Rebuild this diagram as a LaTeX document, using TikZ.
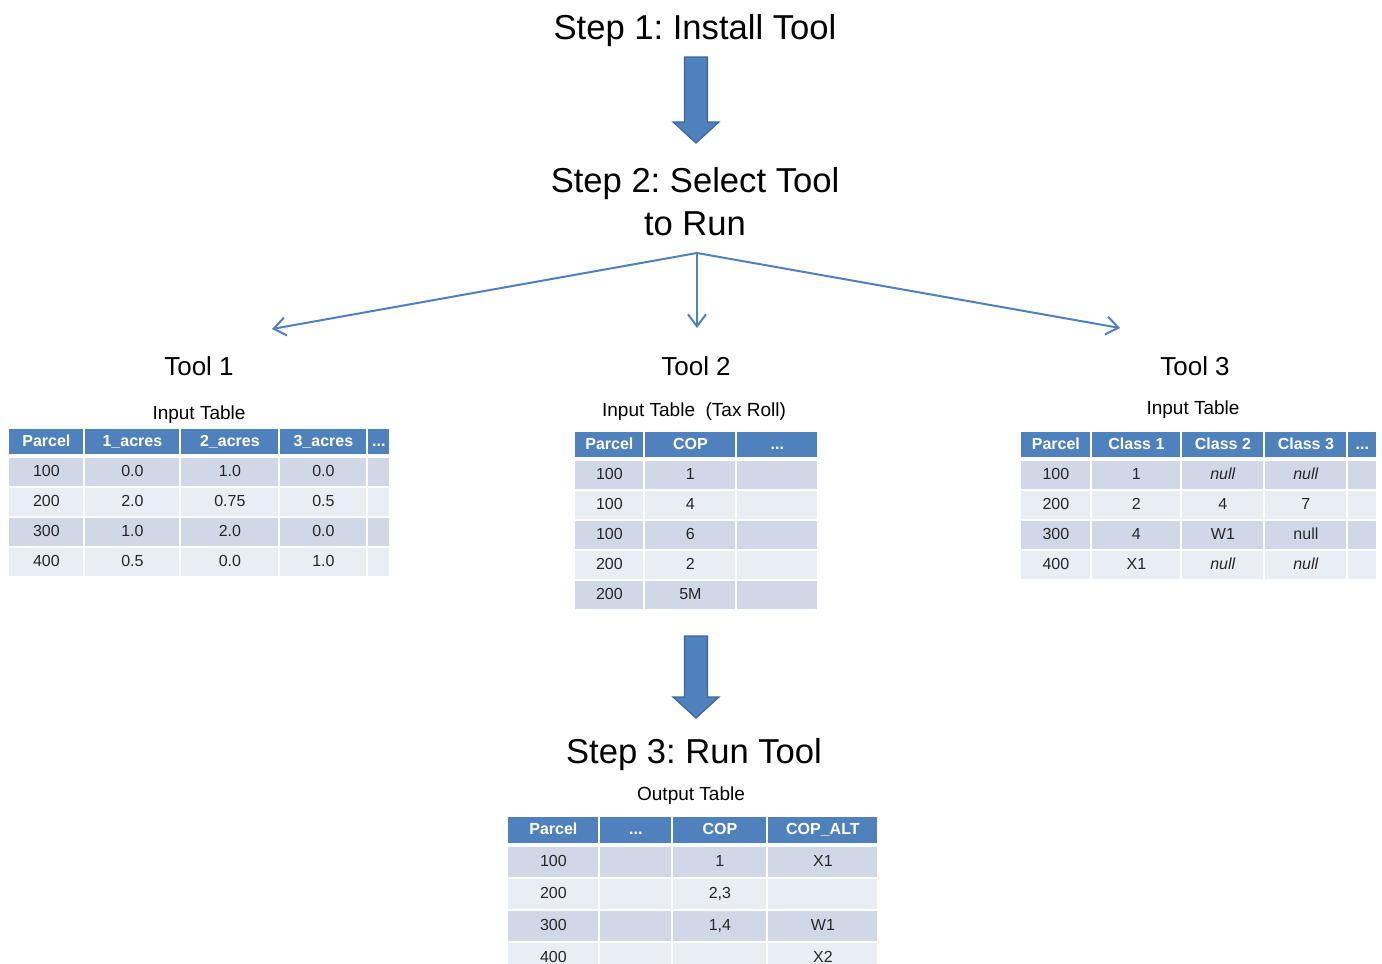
\documentclass[tikz,border=0pt]{standalone}
\usepackage{fontspec}
\setmainfont{Liberation Sans}
\usetikzlibrary{matrix,arrows.meta}
\frenchspacing

\definecolor{hdrblue}{HTML}{4F81BD}
\definecolor{blkedge}{HTML}{3B679E}
\definecolor{rowdark}{HTML}{D0D8E8}
\definecolor{rowlight}{HTML}{E9EDF4}
\definecolor{txtgray}{HTML}{262626}

% block arrow pointing down: x, top y, tip y
\newcommand{\bigdown}[3]{%
  \draw[blk] (#1-11.5,#2) -- (#1+11.5,#2) -- (#1+11.5,#3-21) -- (#1+23,#3-21)
    -- (#1,#3) -- (#1-23,#3-21) -- (#1-11.5,#3-21) -- cycle;}

\tikzset{
  title/.style={font=\fontsize{17.3}{21.5}\selectfont, align=center},
  toolname/.style={font=\fontsize{13}{15}\selectfont, anchor=base},
  caption/.style={font=\fontsize{9.5}{11}\selectfont, anchor=base},
  blk/.style={fill=hdrblue, draw=blkedge, line width=0.6pt},
  link/.style={->, draw=hdrblue, line width=1pt},
  tbl/.style={matrix of nodes, inner sep=0pt, column sep=1pt, row sep=1pt,
    nodes in empty cells, anchor=north west,
    nodes={rectangle, inner sep=0pt, minimum height=14pt, text height=6pt,
      text depth=1.7pt, font=\fontsize{8}{9}\selectfont, text=txtgray,
      fill=rowlight},
    every even row/.style={nodes={fill=rowdark}},
    row 1/.style={nodes={fill=hdrblue, text=white, minimum height=12.5pt,
      font=\fontsize{8}{9}\selectfont\bfseries}}}
}

\begin{document}
\begin{tikzpicture}[x=0.5pt,y=-0.5pt,>={Straight Barb[length=6pt,width=9pt]}]
\useasboundingbox (0,0) rectangle (1382,964);

\node[title, anchor=base] (step1) at (695,39) {Step 1: Install Tool};
\node[title] (step2) at (695,202) {Step 2: Select Tool\\to Run};
\node[title, anchor=base] (step3) at (694,763) {Step 3: Run Tool};

\bigdown{696}{57}{143}
\bigdown{696}{636}{718}

\coordinate (fork) at (697,253);
\coordinate (end1) at (272,329);
\coordinate (end2) at (697,328);
\coordinate (end3) at (1120,328);
\draw[link] (fork) -- (end1);
\draw[link] (fork) -- (end2);
\draw[link] (fork) -- (end3);

\node[toolname] (tool1) at (199,375) {Tool 1};
\node[toolname] (tool2) at (696,375) {Tool 2};
\node[toolname] (tool3) at (1195,375) {Tool 3};

\node[caption] (in1) at (199,419) {Input Table};
\node[caption] (in2) at (694,416) {Input Table\ \ (Tax Roll)};
\node[caption] (in3) at (1193,414) {Input Table};
\node[caption] (out) at (691,800) {Output Table};

\matrix (tab1) [tbl,
  column 1/.style={nodes={minimum width=37pt}},
  column 2/.style={nodes={minimum width=47pt}},
  column 3/.style={nodes={minimum width=48.5pt}},
  column 4/.style={nodes={minimum width=43pt}},
  column 5/.style={nodes={minimum width=10.5pt}}] at (9,429) {
  Parcel & 1\_acres & 2\_acres & 3\_acres & ... \\[1pt]
  100 & 0.0 & 1.0 & 0.0 & \\
  200 & 2.0 & 0.75 & 0.5 & \\
  300 & 1.0 & 2.0 & 0.0 & \\
  400 & 0.5 & 0.0 & 1.0 & \\
};

\matrix (tab2) [tbl,
  column 1/.style={nodes={minimum width=34pt}},
  column 2/.style={nodes={minimum width=45pt}},
  column 3/.style={nodes={minimum width=40pt}}] at (575,432) {
  Parcel & COP & ... \\[1pt]
  100 & 1 & \\
  100 & 4 & \\
  100 & 6 & \\
  200 & 2 & \\
  200 & 5M & \\
};

\matrix (tab3) [tbl,
  column 1/.style={nodes={minimum width=34.5pt}},
  column 2/.style={nodes={minimum width=44pt}},
  column 3/.style={nodes={minimum width=40.5pt}},
  column 4/.style={nodes={minimum width=40.5pt}},
  column 5/.style={nodes={minimum width=14pt}}] at (1021,432) {
  Parcel & Class 1 & Class 2 & Class 3 & ... \\[1pt]
  100 & 1 & \textit{null} & \textit{null} & \\
  200 & 2 & 4 & 7 & \\
  300 & 4 & W1 & null & \\
  400 & X1 & \textit{null} & \textit{null} & \\
};

\matrix (tab4) [tbl, row 1/.append style={nodes={minimum height=13pt}},
  nodes={minimum height=15pt},
  column 1/.style={nodes={minimum width=45pt}},
  column 2/.style={nodes={minimum width=35.5pt}},
  column 3/.style={nodes={minimum width=46.5pt}},
  column 4/.style={nodes={minimum width=54.5pt}}] at (508,817) {
  Parcel & ... & COP & COP\_ALT \\[1pt]
  100 & & 1 & X1 \\
  200 & & 2,3 & \\
  300 & & 1,4 & W1 \\
  400 & & & X2 \\
};
\end{tikzpicture}
\end{document}
